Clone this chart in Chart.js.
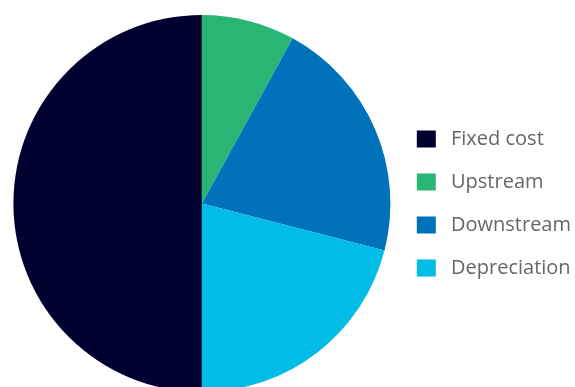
<!DOCTYPE html>
<html>
<head>
<meta charset="utf-8">
<script src="https://cdn.jsdelivr.net/npm/chart.js@4/dist/chart.umd.min.js"></script>
<style>
  html, body { margin: 0; padding: 0; background: #fff; overflow: hidden; }
  #wrap { position: relative; width: 575px; height: 407px; }
</style>
</head>
<body>
<div id="wrap"><canvas id="costChart"></canvas></div>
<script>
const categories = ['Fixed cost', 'Upstream', 'Downstream', 'Depreciation'];
const shares = [50, 8, 21, 21];
const sliceColors = ['#000030', '#29b674', '#0071bb', '#00bce6'];

const ctx = document.getElementById('costChart').getContext('2d');
const defaultLabels = Chart.overrides.pie.plugins.legend.labels.generateLabels;

new Chart(ctx, {
    type: 'pie',
    data: {
        labels: categories,
        datasets: [{
            data: shares,
            backgroundColor: sliceColors,
            borderWidth: 0
        }]
    },
    options: {
        responsive: true,
        maintainAspectRatio: false,
        animation: false,
        rotation: 180,
        layout: { padding: { top: 15, bottom: 15, left: 10, right: -6 } },
        plugins: {
            tooltip: { enabled: false },
            legend: {
                position: 'right',
                labels: {
                    boxWidth: 19,
                    boxHeight: 17,
                    padding: 23,
                    color: '#666666',
                    font: { family: 'Open Sans', size: 20 },
                    // a bit more room between box and text
                    generateLabels: chart => defaultLabels(chart).map(l => ({ ...l, text: ' ' + l.text }))
                }
            }
        }
    }
});
</script>
</body>
</html>
